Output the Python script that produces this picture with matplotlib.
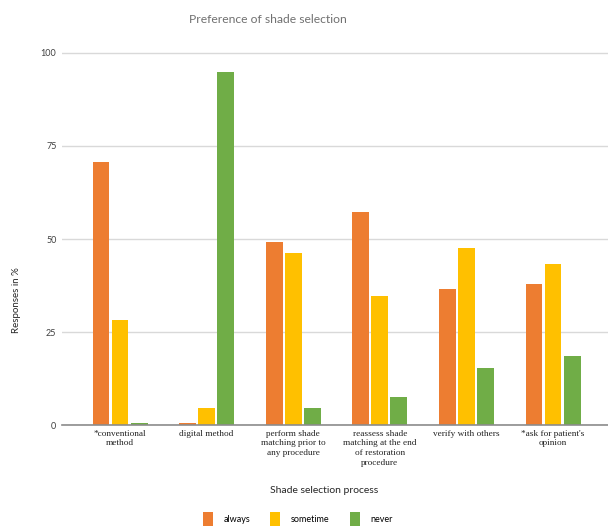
import matplotlib.pyplot as plt
import numpy as np

categories = [
    "*conventional\nmethod",
    "digital method",
    "perform shade\nmatching prior to\nany procedure",
    "reassess shade\nmatching at the end\nof restoration\nprocedure",
    "verify with others",
    "*ask for patient's\nopinion",
]
always = [70.7, 0.7, 49.2, 57.4, 36.6, 38.0]
sometime = [28.3, 4.6, 46.3, 34.8, 47.6, 43.2]
never = [0.7, 94.7, 4.6, 7.6, 15.5, 18.7]

series = [("always", always, "#ED7D31"),
          ("sometime", sometime, "#FFC000"),
          ("never", never, "#70AD47")]

fig = plt.figure(figsize=(6.08, 5.27), dpi=100)
ax = fig.add_axes([0.102, 0.1926, 0.898, 0.7095])

x = np.arange(len(categories))
offsets = [-0.22, 0, 0.22]
for (name, vals, col), off in zip(series, offsets):
    ax.bar(x + off, vals, width=0.195, color=col, label=name, zorder=3)

ax.set_xlim(-0.67, 5.635)
ax.set_ylim(0, 100.3)
ax.set_yticks([0, 25, 50, 75, 100])
ax.set_xticks(x)
ax.set_xticklabels(categories, fontfamily="Liberation Serif", fontsize=6.7,
                   color="#222222", linespacing=1.3)
ax.tick_params(axis="both", length=0)
ax.tick_params(axis="x", pad=3)
ax.tick_params(axis="y", labelsize=6.5, labelcolor="#404040", pad=4)
for lbl in ax.get_yticklabels():
    lbl.set_fontfamily("Lato")

ax.grid(axis="y", color="#D9D9D9", linewidth=1, zorder=0)
for s in ["top", "right", "left"]:
    ax.spines[s].set_visible(False)
ax.spines["bottom"].set_color("#8C8C8C")
ax.spines["bottom"].set_linewidth(1.2)
ax.spines["bottom"].set_zorder(4)

fig.text(0.44, 0.963, "Preference of shade selection", ha="center", va="center",
         fontsize=8.7, color="#707070", fontfamily="Lato")
fig.text(0.027, 0.43, "Responses in %", rotation=90, ha="center", va="center",
         fontsize=7, color="#262626", fontfamily="Lato")
fig.text(0.533, 0.07, "Shade selection process", ha="center", va="center",
         fontsize=7.5, color="#262626", fontfamily="Lato")

fig.legend(loc="center", bbox_to_anchor=(0.49, 0.015), ncol=3, frameon=False,
           prop={"family": "Lato", "size": 6.5}, handlelength=1.1, handleheight=1.9,
           columnspacing=2.2, handletextpad=1.2)

fig.savefig("out.png", dpi=100)
